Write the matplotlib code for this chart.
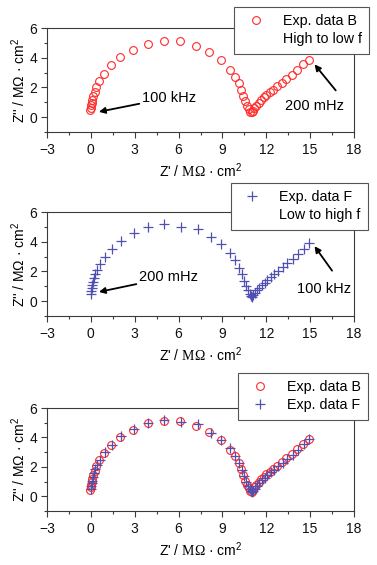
import matplotlib
matplotlib.use("Agg")
import matplotlib.pyplot as plt
from matplotlib.lines import Line2D
from matplotlib.ticker import MultipleLocator

plt.rcParams['font.family'] = ['Liberation Sans', 'DejaVu Sans']
plt.rcParams['mathtext.fontset'] = 'custom'
plt.rcParams['mathtext.rm'] = 'Liberation Serif'
plt.rcParams['mathtext.sf'] = 'Liberation Sans'

# Data B (high to low frequency)
b_re = [-0.05, 0.0, 0.03, 0.06, 0.10, 0.16, 0.25, 0.38, 0.56, 0.88, 1.36, 2.0, 2.9, 3.92, 5.0,
        6.1, 7.22, 8.1, 8.88, 9.5, 9.86, 10.1, 10.26, 10.42, 10.57, 10.7, 10.81, 10.92, 11.0,
        11.08, 11.17, 11.33, 11.5, 11.67, 11.83, 12.01, 12.24, 12.48, 12.75, 13.05, 13.38,
        13.73, 14.1, 14.5, 14.9]
b_im = [0.45, 0.62, 0.80, 0.98, 1.18, 1.42, 1.72, 2.05, 2.45, 2.93, 3.48, 4.03, 4.52, 4.95, 5.13,
        5.1, 4.8, 4.38, 3.82, 3.17, 2.72, 2.27, 1.84, 1.43, 1.06, 0.76, 0.53, 0.37, 0.32,
        0.42, 0.6, 0.78, 0.97, 1.15, 1.33, 1.5, 1.67, 1.86, 2.08, 2.32, 2.58,
        2.86, 3.18, 3.55, 3.87]

# Data F (low to high frequency)
f_re = [0.0, 0.02, 0.05, 0.08, 0.13, 0.2, 0.3, 0.43, 0.62, 0.95, 1.45, 2.08, 2.92, 3.93, 5.02,
        6.18, 7.3, 8.25, 8.92, 9.5, 9.88, 10.14, 10.32, 10.47, 10.62, 10.75, 10.86, 10.95, 11.02,
        11.1, 11.2, 11.35, 11.52, 11.7, 11.88, 12.07, 12.3, 12.55, 12.82, 13.12, 13.45,
        13.8, 14.18, 14.55, 14.95]
f_im = [0.5, 0.68, 0.88, 1.07, 1.3, 1.55, 1.83, 2.12, 2.5, 2.98, 3.5, 4.07, 4.6, 4.97, 5.16,
        5.02, 4.88, 4.33, 3.84, 3.25, 2.75, 2.25, 1.8, 1.38, 1.0, 0.72, 0.5, 0.36, 0.3,
        0.38, 0.52, 0.72, 0.9, 1.08, 1.25, 1.43, 1.62, 1.82, 2.03, 2.28, 2.55,
        2.83, 3.16, 3.52, 3.9]

x_ticks = [-3, 0, 3, 6, 9, 12, 15, 18]
y_ticks = [0, 2, 4, 6]

RED = '#ff2a2a'
BLUE = '#5050b0'
AXC = '#3a3a3a'

fig = plt.figure(figsize=(3.77, 5.65), dpi=100)
L, W = 47/377, (354-47)/377
rects = [(L, 1-132/565, W, 104/565),
         (L, 1-316/565, W, 104/565),
         (L, 1-511/565, W, 103/565)]
axes = [fig.add_axes(r) for r in rects]

xlab = "Z' / " + r"$\mathrm{M\Omega}$" + " \u00b7 cm" + r"$^{\mathsf{2}}$"
ylab = "Z'' / " + r"$\mathsf{M\Omega}$" + " \u00b7 cm" + r"$^{\mathsf{2}}$"

def style(ax):
    ax.set_xlim(-3, 18)
    ax.set_ylim(-1, 6)
    ax.set_xticks(x_ticks)
    ax.set_yticks(y_ticks)
    ax.xaxis.set_minor_locator(MultipleLocator(1.5))
    ax.yaxis.set_minor_locator(MultipleLocator(1))
    ax.tick_params(which='major', direction='out', length=4, width=0.8, colors=AXC,
                   labelsize=10, labelcolor='#111111', pad=3)
    ax.tick_params(axis='x', which='major', pad=4)
    ax.tick_params(which='minor', direction='out', length=2.5, width=0.8, colors=AXC)
    for s in ax.spines.values():
        s.set_color(AXC)
        s.set_linewidth(0.8)
    ax.set_xlabel(xlab, fontsize=10, labelpad=3)
    ax.set_ylabel(ylab, fontsize=10, labelpad=1)

circ_kw = dict(linestyle='none', marker='o', markersize=5.6, markerfacecolor='none',
               markeredgecolor=RED, markeredgewidth=0.8)
plus_kw = dict(linestyle='none', marker='+', markersize=7, markeredgecolor=BLUE,
               markeredgewidth=0.9)
arrow_kw = dict(arrowstyle='-|>', lw=1.3, color='black', mutation_scale=9,
                shrinkA=0, shrinkB=0)
blank = Line2D([], [], linestyle='none', marker='none')
leg_kw = dict(fontsize=10.3, frameon=True, fancybox=False, edgecolor='#555555',
              framealpha=1, borderpad=0.5, labelspacing=0.3, handletextpad=0.9,
              handlelength=2.0, bbox_transform=fig.transFigure, loc='upper right',
              borderaxespad=0)
ann_fs = 10.5

# Panel 1
ax = axes[0]
style(ax)
h1, = ax.plot(b_re, b_im, **circ_kw)
ax.annotate('100 kHz', xy=(0.55, 0.36), xytext=(3.5, 1.3), fontsize=ann_fs, va='center',
            ha='left', arrowprops=arrow_kw)
ax.annotate('', xy=(15.3, 3.55), xytext=(16.75, 1.8), arrowprops=arrow_kw)
ax.text(13.3, 0.72, '200 mHz', fontsize=ann_fs, va='center', ha='left')
leg = ax.legend([h1, blank], ['Exp. data B', 'High to low f'],
                bbox_to_anchor=(369/377, 1-7/565), **leg_kw)
leg.get_frame().set_linewidth(0.8)

# Panel 2
ax = axes[1]
style(ax)
h2, = ax.plot(f_re, f_im, **plus_kw)
ax.annotate('200 mHz', xy=(0.55, 0.62), xytext=(3.3, 1.6), fontsize=ann_fs, va='center',
            ha='left', arrowprops=arrow_kw)
ax.annotate('', xy=(15.3, 3.7), xytext=(16.5, 2.05), arrowprops=arrow_kw)
ax.text(14.1, 0.85, '100 kHz', fontsize=ann_fs, va='center', ha='left')
leg = ax.legend([h2, blank], ['Exp. data F', 'Low to high f'],
                bbox_to_anchor=(368/377, 1-183/565), **leg_kw)
leg.get_frame().set_linewidth(0.8)

# Panel 3
ax = axes[2]
style(ax)
h3, = ax.plot(b_re, b_im, **circ_kw)
h4, = ax.plot(f_re, f_im, **plus_kw)
leg = ax.legend([h3, h4], ['Exp. data B', 'Exp. data F'],
                bbox_to_anchor=(368/377, 1-373/565), **leg_kw)
leg.get_frame().set_linewidth(0.8)

fig.savefig('out.png', dpi=100)
